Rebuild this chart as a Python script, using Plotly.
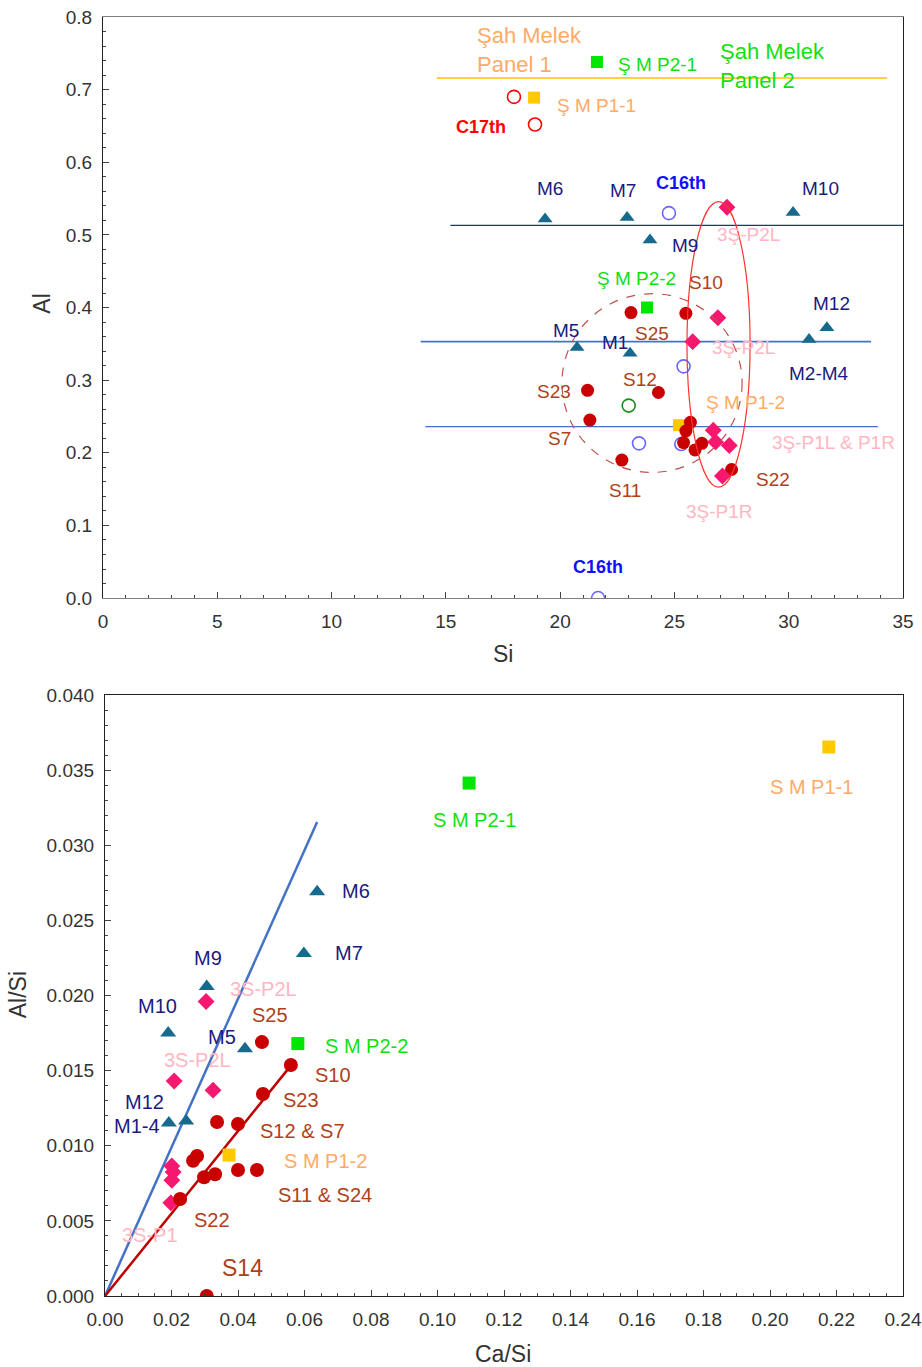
import plotly.graph_objects as go

FONT = "Liberation Sans, Arial, sans-serif"

# ---------------- Top chart data (Si vs Al) ----------------
c17_si = [17.98, 18.9]
c17_al = [0.690, 0.652]
c16_si = [24.76, 25.4, 23.45, 25.3, 21.66]
c16_al = [0.530, 0.319, 0.213, 0.212, 0.0]
green_open_si = [23.0]
green_open_al = [0.265]
smp1_si = [18.86, 25.2]
smp1_al = [0.689, 0.238]
smp2_si = [21.61, 23.8]
smp2_al = [0.738, 0.400]
m_si = [19.34, 22.93, 23.93, 30.19, 20.74, 23.06, 30.89, 31.67]
m_al = [0.522, 0.524, 0.493, 0.531, 0.345, 0.337, 0.356, 0.372]
s_si = [23.1, 25.5, 21.2, 24.3, 21.3, 25.7, 25.5, 25.4, 25.9, 26.2, 22.7, 27.5]
s_al = [0.393, 0.392, 0.286, 0.283, 0.245, 0.242, 0.230, 0.214, 0.204, 0.213, 0.190, 0.177]
p3_si = [27.3, 26.9, 25.8, 26.7, 26.8, 27.4, 27.1]
p3_al = [0.538, 0.386, 0.353, 0.231, 0.215, 0.210, 0.168]

# horizontal reference lines (Si extent, Al level)
hl_panel1 = ([14.6, 34.3], 0.716)
hl_m_top = ([15.2, 35.0], 0.513)
hl_m_mid = ([13.9, 33.6], 0.353)
hl_m_low = ([14.1, 33.9], 0.236)

# ellipses (x0, x1, y0, y1)
ell_dashed = (20.08, 27.96, 0.173, 0.419)
ell_solid = (25.55, 28.31, 0.1526, 0.5457)

# labels: text, x, y, colour, size, bold
NAVY = "#1A1A80"
BROWN = "#B0401A"
PINK = "#FFB6C1"
LORANGE = "#FFAA66"
GREENT = "#11E011"
top_labels = [
    ("Şah Melek<br>Panel 1", 18.64, 0.755, LORANGE, 22, False),
    ("Şah Melek<br>Panel 2", 29.27, 0.733, GREENT, 22, False),
    ("Ş M P2-1", 24.28, 0.734, GREENT, 19, False),
    ("Ş M P1-1", 21.61, 0.678, LORANGE, 19, False),
    ("C17th", 16.54, 0.649, "#FF0000", 18, True),
    ("M6", 19.56, 0.5636, NAVY, 19, False),
    ("M7", 22.75, 0.561, NAVY, 19, False),
    ("C16th", 25.29, 0.572, "#1010FF", 18, True),
    ("M10", 31.37, 0.5636, NAVY, 19, False),
    ("M9", 25.46, 0.485, NAVY, 19, False),
    ("3Ş-P2L", 28.26, 0.500, PINK, 19, False),
    ("Ş M P2-2", 23.36, 0.440, GREENT, 19, False),
    ("S10", 26.38, 0.434, BROWN, 19, False),
    ("M12", 31.85, 0.4055, NAVY, 19, False),
    ("M5", 20.26, 0.368, NAVY, 19, False),
    ("M1", 22.40, 0.352, NAVY, 19, False),
    ("S25", 24.02, 0.364, BROWN, 19, False),
    ("3Ş-P2L", 28.04, 0.345, PINK, 19, False),
    ("M2-M4", 31.33, 0.309, NAVY, 19, False),
    ("S12", 23.49, 0.301, BROWN, 19, False),
    ("S23", 19.73, 0.2845, BROWN, 19, False),
    ("Ş M P1-2", 28.13, 0.2694, LORANGE, 19, False),
    ("S7", 19.99, 0.220, BROWN, 19, False),
    ("3Ş-P1L & P1R", 31.94, 0.2144, PINK, 19, False),
    ("S22", 29.31, 0.1636, BROWN, 19, False),
    ("S11", 22.84, 0.1485, BROWN, 19, False),
    ("3Ş-P1R", 26.99, 0.1196, PINK, 19, False),
    ("C16th", 21.66, 0.0426, "#1010FF", 18, True),
]

# ---------------- Bottom chart data (Ca/Si vs Al/Si) ----------------
b_smp1_x = [0.2177, 0.0373]
b_smp1_y = [0.03654, 0.00938]
b_smp2_x = [0.1095, 0.058]
b_smp2_y = [0.03414, 0.0168]
b_m_x = [0.0638, 0.0598, 0.0306, 0.0190, 0.0421, 0.0192, 0.0244]
b_m_y = [0.0269, 0.0228, 0.0206, 0.0175, 0.01645, 0.01151, 0.01165]
b_s_x = [0.0472, 0.0559, 0.0475, 0.0337, 0.0400, 0.0277, 0.0265, 0.0400, 0.0457, 0.0331, 0.0298, 0.0226, 0.0306]
b_s_y = [0.0169, 0.01537, 0.01344, 0.01158, 0.01145, 0.00932, 0.0090, 0.00839, 0.00839, 0.0081, 0.0079, 0.00646, 0.0]
b_p_x = [0.0304, 0.0208, 0.0325, 0.0201, 0.0205, 0.0201, 0.0198]
b_p_y = [0.0196, 0.01431, 0.0137, 0.00865, 0.00825, 0.0077, 0.0062]
blue_line_x = [0.0, 0.0638]
blue_line_y = [0.0, 0.03155]
red_line_x = [0.0, 0.0565]
red_line_y = [0.0, 0.0155]

bot_labels = [
    ("S M P2-1", 0.1110, 0.03168, GREENT, 20),
    ("S M P1-1", 0.2126, 0.03388, LORANGE, 20),
    ("M6", 0.0755, 0.02696, NAVY, 20),
    ("M7", 0.0734, 0.02283, NAVY, 20),
    ("M9", 0.0310, 0.02250, NAVY, 20),
    ("3S-P2L", 0.0478, 0.02043, PINK, 20),
    ("M10", 0.0159, 0.01930, NAVY, 20),
    ("S25", 0.0496, 0.01870, BROWN, 20),
    ("M5", 0.0352, 0.01724, NAVY, 20),
    ("S M P2-2", 0.0785, 0.01664, GREENT, 20),
    ("3S-P2L", 0.0277, 0.01571, PINK, 20),
    ("S10", 0.0686, 0.01471, BROWN, 20),
    ("M12", 0.0120, 0.01291, NAVY, 20),
    ("S23", 0.0589, 0.01304, BROWN, 20),
    ("M1-4", 0.0096, 0.01131, NAVY, 20),
    ("S12 & S7", 0.0595, 0.01098, BROWN, 20),
    ("S M P1-2", 0.0662, 0.00899, LORANGE, 20),
    ("S11 & S24", 0.0662, 0.00672, BROWN, 20),
    ("S22", 0.0322, 0.00506, BROWN, 20),
    ("3S-P1", 0.0135, 0.00406, PINK, 20),
    ("S14", 0.0415, 0.00186, BROWN, 23),
]

# colours
RED = "#C80000"
TRI = "#17698E"
DIAM = "#F5186E"
GSQ = "#00E600"
YSQ = "#FFC800"

fig = go.Figure()


def pts(x, y, xa, ya, symbol, color, size, open_=False):
    if open_:
        marker = dict(symbol=symbol, size=size, color=color,
                      line=dict(color=color, width=1.6))
    else:
        marker = dict(symbol=symbol, size=size, color=color, line=dict(width=0))
    fig.add_trace(go.Scatter(x=x, y=y, mode="markers", marker=marker,
                             xaxis=xa, yaxis=ya, showlegend=False, hoverinfo="skip"))


def hline(spec, color, width):
    xs, lev = spec
    fig.add_trace(go.Scatter(x=xs, y=[lev, lev], mode="lines",
                             line=dict(color=color, width=width),
                             xaxis="x", yaxis="y", showlegend=False, hoverinfo="skip"))


# top chart lines
hline(hl_panel1, "#FFC000", 1.3)
hline(hl_m_top, "#203864", 1.3)
hline(hl_m_mid, "#4472C4", 1.6)
hline(hl_m_low, "#4472C4", 1.1)

# top chart points
pts(c17_si, c17_al, "x", "y", "circle-open", "#FF0000", 13, True)
pts(c16_si, c16_al, "x", "y", "circle-open", "#6666FF", 13, True)
pts(green_open_si, green_open_al, "x", "y", "circle-open", "#1A8C1A", 13, True)
pts(smp1_si, smp1_al, "x", "y", "square", YSQ, 12)
pts(smp2_si, smp2_al, "x", "y", "square", GSQ, 12)
pts(m_si, m_al, "x", "y", "triangle-up", TRI, 13)
pts(s_si, s_al, "x", "y", "circle", RED, 13)
pts(p3_si, p3_al, "x", "y", "diamond", DIAM, 13)

# bottom chart lines
fig.add_trace(go.Scatter(x=blue_line_x, y=blue_line_y, mode="lines",
                         line=dict(color="#4472C4", width=2.5),
                         xaxis="x2", yaxis="y2", showlegend=False, hoverinfo="skip"))
fig.add_trace(go.Scatter(x=red_line_x, y=red_line_y, mode="lines",
                         line=dict(color="#C00000", width=2.5),
                         xaxis="x2", yaxis="y2", showlegend=False, hoverinfo="skip"))

# bottom chart points
pts(b_m_x, b_m_y, "x2", "y2", "triangle-up", TRI, 14)
pts(b_p_x, b_p_y, "x2", "y2", "diamond", DIAM, 13)
pts(b_s_x, b_s_y, "x2", "y2", "circle", RED, 14)
pts(b_smp1_x, b_smp1_y, "x2", "y2", "square", YSQ, 13)
pts(b_smp2_x, b_smp2_y, "x2", "y2", "square", GSQ, 13)

shapes = [
    dict(type="circle", xref="x", yref="y", x0=ell_dashed[0], x1=ell_dashed[1],
         y0=ell_dashed[2], y1=ell_dashed[3], line=dict(color="#C0504D", width=1.2, dash="dash")),
    dict(type="circle", xref="x", yref="y", x0=ell_solid[0], x1=ell_solid[1],
         y0=ell_solid[2], y1=ell_solid[3], line=dict(color="#FF3333", width=1.2)),
]

annotations = []
for t, x, y, c, s, b in top_labels:
    txt = f"<b>{t}</b>" if b else t
    annotations.append(dict(text=txt, x=x, y=y, xref="x", yref="y", showarrow=False,
                            font=dict(family=FONT, size=s, color=c), align="left"))
for t, x, y, c, s in bot_labels:
    annotations.append(dict(text=t, x=x, y=y, xref="x2", yref="y2", showarrow=False,
                            font=dict(family=FONT, size=s, color=c)))

# axis titles
TITLE_FONT = dict(family=FONT, size=23, color="#333333")
common = dict(xref="paper", yref="paper", showarrow=False, font=TITLE_FONT,
              xanchor="center", yanchor="middle")
annotations += [
    dict(text="Si", x=0.5, y=0.502, **common),
    dict(text="Ca/Si", x=0.5, y=-0.0453, **common),
    dict(text="Al", x=-0.076, y=0.776, textangle=-90, **common),
    dict(text="Al/Si", x=-0.106, y=0.2353, textangle=-90, **common),
]

TICKFONT = dict(family=FONT, size=19, color="#333333")


def axis(rng, dtick, mdtick, fmt, domain, anchor, linecolor="#666666"):
    return dict(range=rng, dtick=dtick, tick0=0, tickformat=fmt, domain=domain, anchor=anchor,
                automargin=False,
                showgrid=False, zeroline=False, showline=True, mirror=True,
                linecolor=linecolor, linewidth=1.2, ticks="inside", ticklen=6,
                tickcolor="#444444", tickwidth=1, tickfont=TICKFONT, ticklabelstandoff=6,
                minor=dict(dtick=mdtick, tick0=0, ticks="inside", ticklen=3,
                           tickcolor="#444444", showgrid=False))


fig.update_layout(
    width=922, height=1367,
    margin=dict(l=103, r=19, t=17, b=71),
    paper_bgcolor="white", plot_bgcolor="white",
    xaxis=axis([0, 35], 5, 1, "d", [0, 1], "y", "#808080"),
    yaxis=axis([0, 0.8], 0.1, 0.02, ".1f", [0.5457, 1], "x", "#222222"),
    xaxis2=axis([0, 0.24], 0.02, 0.005, ".2f", [0.0025, 1], "y2", "#222222"),
    yaxis2=axis([0, 0.04], 0.005, 0.001, ".3f", [0, 0.4699], "x2", "#222222"),
    shapes=shapes,
    annotations=annotations,
    font=dict(family=FONT),
)

fig.write_html("out.html")
